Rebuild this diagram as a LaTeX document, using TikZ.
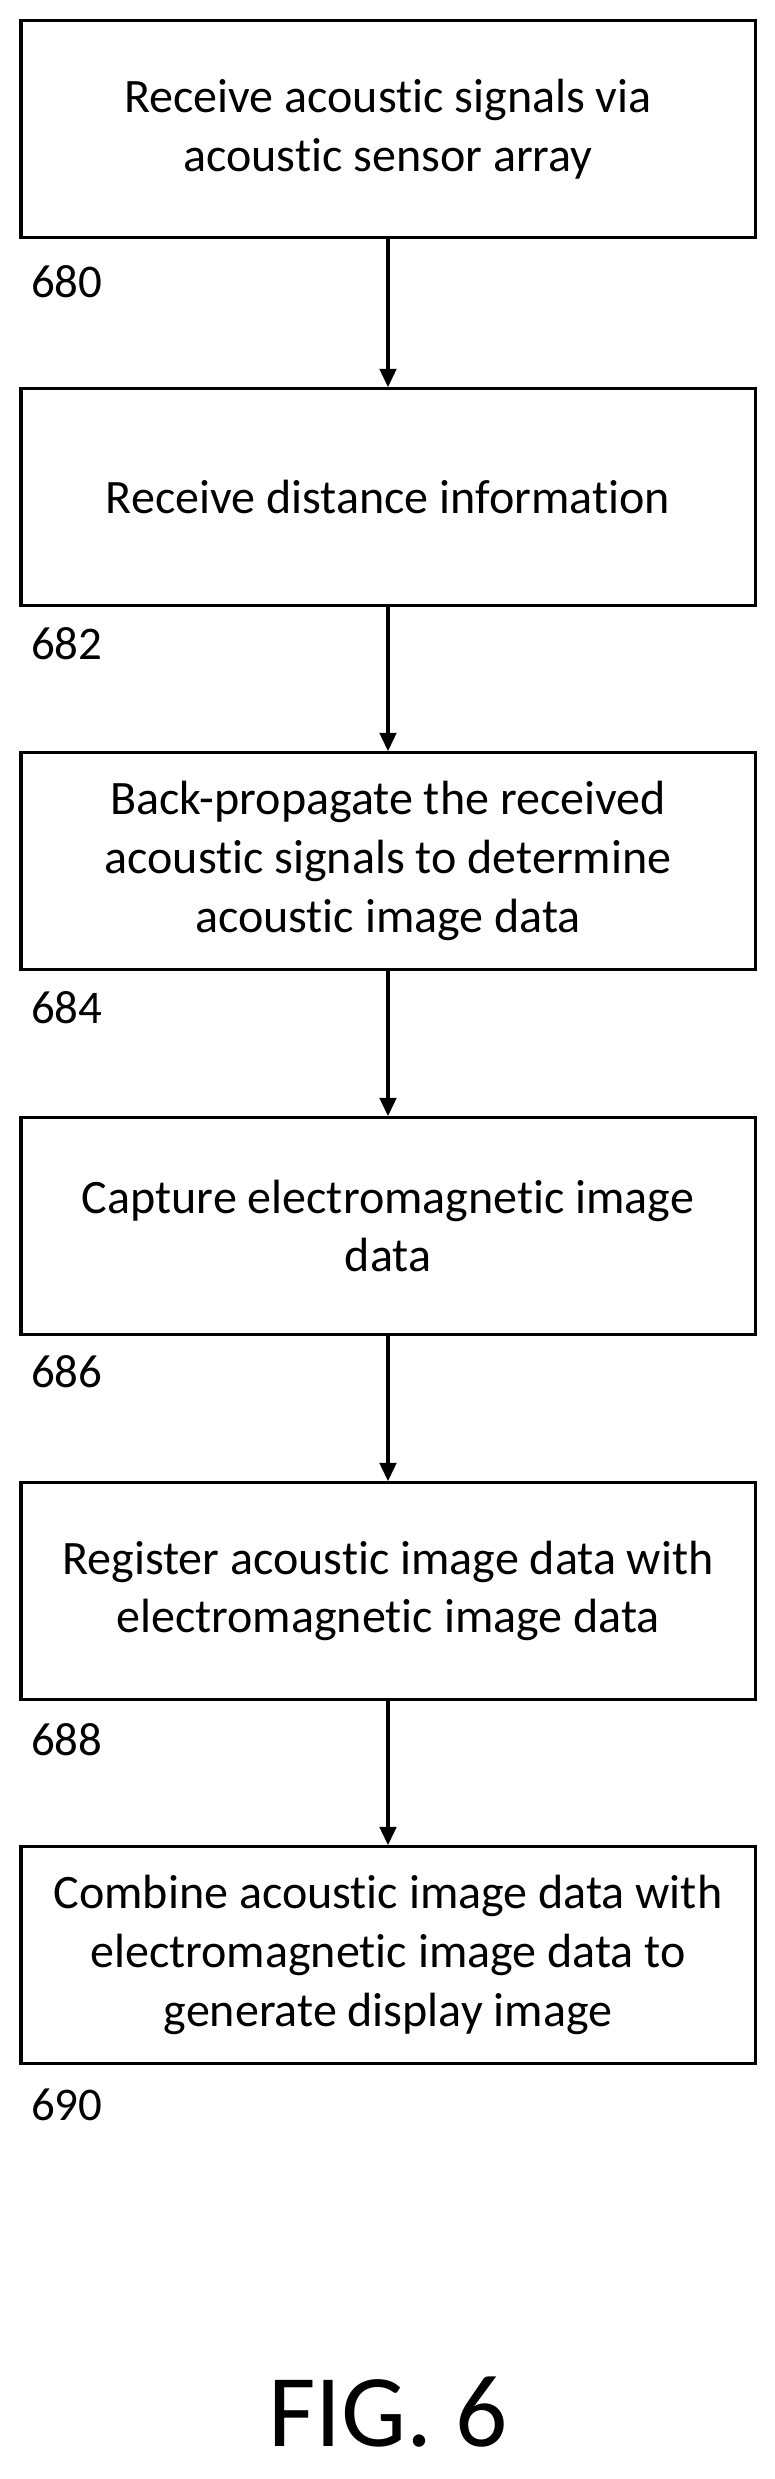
\documentclass[tikz,border=0pt]{standalone}
\usepackage{fontspec}
\setmainfont{Carlito}[Ligatures={NoCommon}]
\usetikzlibrary{arrows.meta}
\tikzset{
  stepbox/.style={draw,line width=2.6pt,minimum width=22.02cm,minimum height=6.5cm,
    align=center,font=\fontsize{41}{50}\selectfont},
  num/.style={anchor=west,inner sep=0pt,font=\fontsize{40}{48}\selectfont},
  flow/.style={line width=2.6pt,-{Triangle[length=0.55cm,width=0.5cm]}}
}
\begin{document}
\begin{tikzpicture}[x=0.03cm,y=-0.03cm]
    \useasboundingbox (0,0) rectangle (774,2479);

    \node[stepbox] (s680) at (388,129) {Receive acoustic signals via\\acoustic sensor array};
    \node[stepbox] (s682) at (388,497) {Receive distance information};
    \node[stepbox] (s684) at (388,861) {Back-propagate the received\\acoustic signals to determine\\acoustic image data};
    \node[stepbox] (s686) at (388,1226) {Capture electromagnetic image\\data};
    \node[stepbox] (s688) at (388,1591) {Register acoustic image data with\\electromagnetic image data};
    \node[stepbox] (s690) at (388,1955) {Combine acoustic image data with\\electromagnetic image data to\\generate display image};

    \foreach \k/\y in {680/282,682/644,684/1008,686/1372,688/1740,690/2105} {
      \node[num] (n\k) at (31,\y) {\k};
    }

    \draw[flow] (s680) -- (s682);
    \draw[flow] (s682) -- (s684);
    \draw[flow] (s684) -- (s686);
    \draw[flow] (s686) -- (s688);
    \draw[flow] (s688) -- (s690);

    \node[font=\fontsize{88}{100}\selectfont] (fig) at (388,2412) {FIG. 6};
\end{tikzpicture}
\end{document}
